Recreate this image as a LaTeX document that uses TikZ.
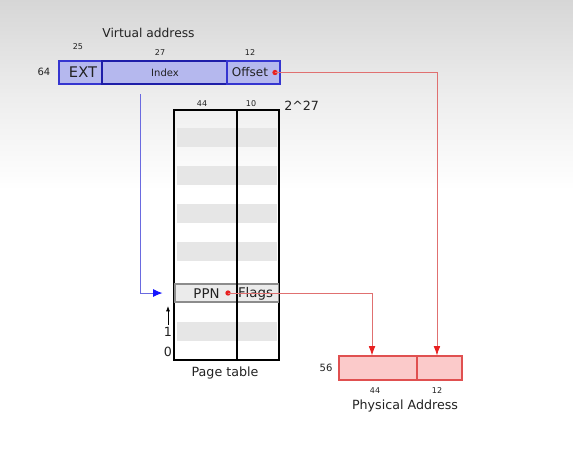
\documentclass[tikz,border=0pt]{standalone}
\usepackage{fontspec}
\setmainfont{DejaVu Sans}
\usetikzlibrary{arrows.meta,calc}
\definecolor{vfill}{HTML}{B5B8EE}
\definecolor{vdraw}{HTML}{3535D0}
\definecolor{vdark}{HTML}{1E1EA8}
\definecolor{pfill}{HTML}{FBCACA}
\definecolor{pdraw}{HTML}{E05050}
\definecolor{rline}{HTML}{E07070}
\definecolor{rtip}{HTML}{E82020}
\definecolor{bline}{HTML}{6A6AE0}
\definecolor{btip}{HTML}{1515FF}
\definecolor{stripe}{HTML}{E6E6E6}
\definecolor{txt}{HTML}{222222}
\tikzset{
  vbox/.style={draw=vdraw, fill=vfill, line width=0.9pt, inner sep=0pt, minimum height=17.25pt},
  pbox/.style={draw=pdraw, fill=pfill, line width=0.8pt, inner sep=0pt, minimum height=18pt},
  lbl/.style={text=txt, inner sep=0pt, font=\fontsize{6}{7}\selectfont},
  mid/.style={text=txt, inner sep=0pt, font=\fontsize{9.5}{11}\selectfont},
  rarrow/.style={draw=rline, line width=0.6pt, -{Latex[length=7pt,width=5pt,color=rtip]}},
  barrow/.style={draw=bline, line width=0.7pt, -{Latex[length=7pt,width=6pt,color=btip]}},
  dot/.style={circle, fill=rtip, inner sep=0pt, minimum size=4pt}
}
\begin{document}
\begin{tikzpicture}[x=0.75pt,y=-0.75pt]
\useasboundingbox (0,0) rectangle (573,465);
\fill[white] (0,0) rectangle (573,465);
\shade[top color={black!16}, bottom color=white, middle color={black!7}] (0,0) rectangle (573,190);
% virtual address
\node[text=txt, inner sep=0pt, font=\fontsize{9.2}{11}\selectfont] (vt) at (148.5,33) {Virtual address};
\node[vbox, minimum width=32.25pt] (ext) at (80.5,72.5) {};
\node[vbox, draw=vdark, line width=1.3pt, minimum width=93.75pt] (idx) at (164.5,72.5) {};
\node[vbox, minimum width=39.75pt] (off) at (253.5,72.5) {};
\node[text=txt, inner sep=0pt, font=\fontsize{11}{12}\selectfont] (extt) at (83,72.5) {EXT};
\node[text=txt, inner sep=0pt, font=\fontsize{7.5}{9}\selectfont] (idxt) at (165,72.5) {Index};
\node[text=txt, inner sep=0pt, font=\fontsize{9}{10}\selectfont] (offt) at (250,72.5) {Offset};
\node[lbl] (n25) at (78,47) {25};
\node[lbl] (n27) at (160,53) {27};
\node[lbl] (n12a) at (250,53) {12};
\node[lbl, font=\fontsize{7.5}{8}\selectfont] (n64) at (44,72) {64};
\node[dot] (odot) at (275,72.5) {};
% page table
\node[draw, line width=1pt, inner sep=0pt, minimum width=78.75pt, minimum height=187.5pt] (pt) at (226.5,235) {};
\foreach \y in {128,166,204,242,322} {
  \fill[stripe] (177,\y) rectangle (277,\y+19);
}
\node[draw=black!45, fill=black!8, line width=0.8pt, inner sep=0pt, minimum width=78pt, minimum height=13.5pt] (ppn) at (227,293) {};
\draw[line width=1pt] (237,110) -- (237,360);
\draw[line width=1pt] (pt.north west) rectangle (pt.south east);
\node[mid, font=\fontsize{10}{11}\selectfont] (ppnt) at (206.5,294) {PPN};
\node[mid, font=\fontsize{10}{11}\selectfont] (flt) at (255.5,294) {Flags};
\node[dot] (pdot) at (228,293) {};
\node[lbl] (n44a) at (202,104) {44};
\node[lbl] (n10) at (251,104) {10};
\node[text=txt, inner sep=0pt, anchor=west, font=\fontsize{9.5}{11}\selectfont] (n227) at (284,106) {2\^{}27};
\node[mid] (one) at (168,332) {1};
\node[mid] (zero) at (168,352) {0};
\coordinate (ua) at (168,325);
\coordinate (ub) at (168,306);
\draw[line width=0.6pt, -{Latex[length=4pt,width=3pt]}] (ua) -- (ub);
\node[mid] (ptt) at (225,373) {Page table};
% physical address
\node[pbox, minimum width=58.5pt] (pl) at (378,368) {};
\node[pbox, minimum width=33.75pt] (pr) at (439.5,368) {};
\node[lbl, font=\fontsize{7.5}{8}\selectfont] (n56) at (326,368) {56};
\node[lbl] (n44b) at (375,391) {44};
\node[lbl] (n12b) at (437,391) {12};
\node[text=txt, inner sep=0pt, font=\fontsize{9.5}{11}\selectfont] (pat) at (405,406) {Physical Address};
% connectors
\draw[rarrow] (odot.center) -| ([xshift=-1.9pt]pr.north);
\draw[rarrow] (pdot.center) -| ([xshift=-4.5pt]pl.north);
\coordinate (bs) at (140,94);
\draw[barrow] (bs) |- ([xshift=-9pt]ppn.west);
\end{tikzpicture}
\end{document}
